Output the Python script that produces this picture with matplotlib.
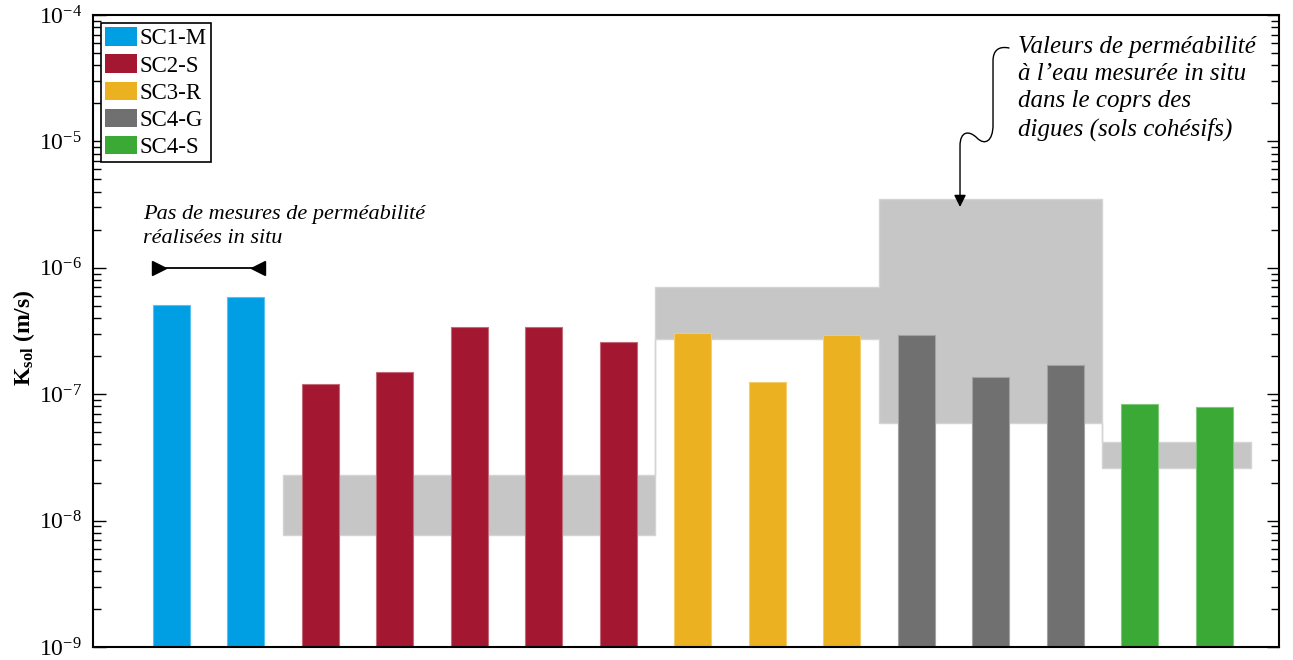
import numpy as np
import matplotlib
matplotlib.use("Agg")
import matplotlib.pyplot as plt
from matplotlib.patches import Patch, FancyArrowPatch
from matplotlib.path import Path
from matplotlib.ticker import LogLocator, LogFormatterMathtext, NullFormatter
from matplotlib.colors import to_rgb

plt.rcParams['font.family'] = ['Liberation Serif', 'DejaVu Serif']
plt.rcParams['mathtext.fontset'] = 'custom'
plt.rcParams['mathtext.rm'] = 'Liberation Serif'
plt.rcParams['mathtext.it'] = 'Liberation Serif:italic'
plt.rcParams['mathtext.bf'] = 'Liberation Serif:bold'

# données
groups = ['SC1-M', 'SC2-S', 'SC3-R', 'SC4-G', 'SC4-S']
colors = ['#009FE3', '#A31830', '#EBB121', '#707070', '#3AA935']
k_sc1 = [5.1e-7, 5.9e-7]
k_sc2 = [1.20e-7, 1.50e-7, 3.40e-7, 3.40e-7, 2.59e-7]
k_sc3 = [3.05e-7, 1.23e-7, 2.94e-7]
k_sc4g = [2.94e-7, 1.37e-7, 1.70e-7]
k_sc4s = [8.2e-8, 7.8e-8]
k_values = [k_sc1, k_sc2, k_sc3, k_sc4g, k_sc4s]

# plages in situ (groupes SC2-S .. SC4-S)
range_low = [7.7e-9, 2.73e-7, 5.9e-8, 2.6e-8]
range_high = [2.3e-8, 7.05e-7, 3.5e-6, 4.2e-8]

fig = plt.figure(figsize=(12.93, 6.60), dpi=100)
ax = fig.add_axes([0.0719, 0.0197, 0.9173, 0.9576])

counts = [len(v) for v in k_values]
starts = np.concatenate([[1], 1 + np.cumsum(counts)[:-1]])

# zones grises
edges = list(starts[1:] - 0.5) + [starts[-1] + counts[-1] - 0.5]
ax.fill_between(edges, range_low + [range_low[-1]], range_high + [range_high[-1]],
                step='post', facecolor='#C6C6C6', edgecolor='#D4D4D4',
                linewidth=1.0, zorder=1)

for vals, st, col in zip(k_values, starts, colors):
    x = st + np.arange(len(vals))
    rgb = np.array(to_rgb(col))
    edge = rgb + (1 - rgb) * 0.35
    ax.bar(x, vals, width=0.5, color=col, edgecolor=edge, linewidth=0.8,
           bottom=1e-9, zorder=2)

ax.set_yscale('log')
ax.set_ylim(1e-9, 1e-4)
ax.set_xlim(-0.05, 15.87)
ax.set_xticks([])
ax.yaxis.set_major_locator(LogLocator(base=10, numticks=10))
ax.yaxis.set_major_formatter(LogFormatterMathtext())
ax.yaxis.set_minor_locator(LogLocator(base=10, subs=np.arange(2, 10), numticks=20))
ax.yaxis.set_minor_formatter(NullFormatter())
ax.tick_params(axis='y', which='both', direction='in', right=True, labelsize=17, width=1)
ax.tick_params(axis='y', which='major', length=9, pad=8)
ax.tick_params(axis='y', which='minor', length=5.5)
for sp in ax.spines.values():
    sp.set_linewidth(1.5)

ax.set_ylabel(r'K$_{\mathbf{sol}}$ (m/s)', fontsize=17, fontweight='bold')
ax.yaxis.set_label_coords(-0.047, 0.49)

handles = [Patch(facecolor=c, edgecolor='none') for c in colors]
leg = ax.legend(handles, groups, loc='upper left', bbox_to_anchor=(0.0068, 0.987),
                fontsize=16.5, frameon=True, fancybox=False, framealpha=1,
                edgecolor='black', handlelength=1.4, handleheight=0.85,
                handletextpad=0.1, borderpad=0.18, labelspacing=0.22,
                borderaxespad=0)
leg.get_frame().set_linewidth(1.2)

# annotation : pas de mesures
x_ends = [starts[0] - 0.25, starts[0] + counts[0] - 1 + 0.25]
ax.plot(x_ends, [1e-6, 1e-6], color='black', lw=1.3, zorder=3)
ax.plot([x_ends[0] + 0.085], [1e-6], marker='>', color='black', ms=10, zorder=3)
ax.plot([x_ends[1] - 0.085], [1e-6], marker='<', color='black', ms=10, zorder=3)
ax.text(0.62, 3.15e-6, 'Pas de mesures de perméabilité\nréalisées in situ',
        fontsize=16, style='italic', va='top', ha='left', linespacing=1.35)

# annotation : valeurs in situ
ax.text(12.37, 6.8e-5, 'Valeurs de perméabilité\nà l\u2019eau mesurée in situ\ndans le coprs des\ndigues (sols cohésifs)',
        fontsize=18, style='italic', va='top', ha='left', linespacing=1.3)


def px(x, y):
    return ((x - 93) / 1186, (647 - y) / 632)


verts = [px(1009, 48), px(999, 46), px(993, 50), px(993, 61),
         px(993, 125),
         px(993, 141), px(985, 146), px(977, 138),
         px(969, 130), px(960, 131), px(960, 146),
         px(960, 207)]
codes = [Path.MOVETO, Path.CURVE4, Path.CURVE4, Path.CURVE4,
         Path.LINETO,
         Path.CURVE4, Path.CURVE4, Path.CURVE4,
         Path.CURVE4, Path.CURVE4, Path.CURVE4,
         Path.LINETO]
arrow = FancyArrowPatch(path=Path(verts, codes), arrowstyle='-|>,head_length=0.6,head_width=0.3',
                        mutation_scale=12, color='black', lw=1.0,
                        transform=ax.transAxes, zorder=4)
ax.add_patch(arrow)

fig.savefig('out.png', dpi=100)
